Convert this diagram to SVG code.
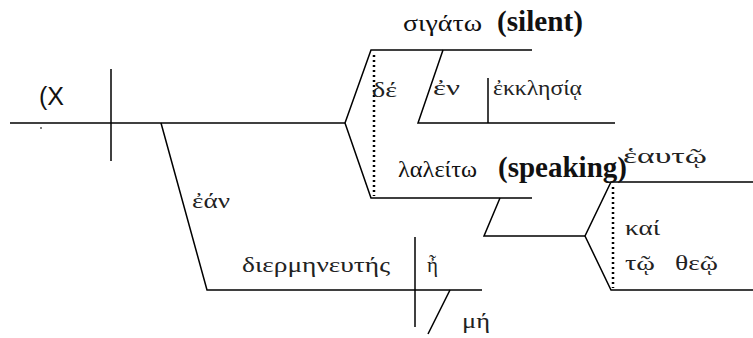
<svg xmlns="http://www.w3.org/2000/svg" width="753" height="338" viewBox="0 0 753 338">
<style>
.ln{stroke:#000;stroke-width:1.5;fill:none}
.dot{stroke:#000;stroke-width:2.5;fill:none;stroke-dasharray:2 3}
.g{font-family:'Liberation Serif','DejaVu Serif',serif;font-size:21px;fill:#222}
.gb{font-family:'Liberation Serif','DejaVu Serif',serif;font-size:24px;fill:#111}
.b{font-family:'Liberation Serif','Times New Roman',serif;font-size:29px;font-weight:bold;fill:#111}
.s{font-family:'Liberation Sans',Arial,sans-serif;font-size:25px;fill:#111}
</style>
<rect width="753" height="338" fill="#fff"/>
<g id="connectors">
<line class="ln" x1="10" y1="123" x2="345" y2="123"/>
<line class="ln" x1="111" y1="69" x2="111" y2="161"/>
<polyline class="ln" points="161,123 207,290 482,290"/>
<line class="ln" x1="415" y1="237" x2="415" y2="327"/>
<line class="ln" x1="450" y1="290" x2="428" y2="334"/>
<polyline class="ln" points="532,50 371,50 345,123 371,198 532,198"/>
<line class="dot" x1="374" y1="55" x2="374" y2="196"/>
<polyline class="ln" points="443,50 418,123 615,123"/>
<line class="ln" x1="488" y1="78" x2="488" y2="123"/>
<polyline class="ln" points="500,198 484,236 585,236"/>
<polyline class="ln" points="753,182 611,182 585,236 611,290 753,290"/>
<line class="dot" x1="613" y1="187" x2="613" y2="288"/>
<circle cx="41" cy="128" r="1" fill="#555"/>
</g>
<g id="n-x"><text class="s" x="39" y="105">(X</text></g>
<g id="n-sigato"><text class="gb" x="403" y="31" textLength="79" lengthAdjust="spacingAndGlyphs">σιγάτω</text><text class="b" x="497" y="31" textLength="86" lengthAdjust="spacingAndGlyphs">(silent)</text></g>
<g id="n-de"><text class="g" x="372" y="97" textLength="25" lengthAdjust="spacingAndGlyphs">δέ</text></g>
<g id="n-en"><text class="g" x="433" y="95" textLength="27" lengthAdjust="spacingAndGlyphs">ἐν</text></g>
<g id="n-ekklesia"><text class="g" x="493" y="95" textLength="89" lengthAdjust="spacingAndGlyphs">ἐκκλησίᾳ</text></g>
<g id="n-lalei"><text class="gb" x="398" y="177" textLength="79" lengthAdjust="spacingAndGlyphs">λαλείτω</text><text class="b" x="498" y="177" textLength="129" lengthAdjust="spacingAndGlyphs">(speaking)</text></g>
<g id="n-heauto"><text class="g" x="623" y="163" textLength="84" lengthAdjust="spacingAndGlyphs">ἑαυτῷ</text></g>
<g id="n-kai"><text class="g" x="625" y="235" textLength="35" lengthAdjust="spacingAndGlyphs">καί</text></g>
<g id="n-to"><text class="g" x="625" y="270" textLength="30" lengthAdjust="spacingAndGlyphs">τῷ</text></g>
<g id="n-theo"><text class="g" x="675" y="270" textLength="43" lengthAdjust="spacingAndGlyphs">θεῷ</text></g>
<g id="n-ean"><text class="g" x="192" y="208" textLength="38" lengthAdjust="spacingAndGlyphs">ἐάν</text></g>
<g id="n-dierm"><text class="g" x="242" y="272" textLength="148" lengthAdjust="spacingAndGlyphs">διερμηνευτής</text></g>
<g id="n-e"><text class="g" x="427" y="272">ἦ</text></g>
<g id="n-me"><text class="g" x="462" y="328" textLength="28" lengthAdjust="spacingAndGlyphs">μή</text></g>
</svg>
